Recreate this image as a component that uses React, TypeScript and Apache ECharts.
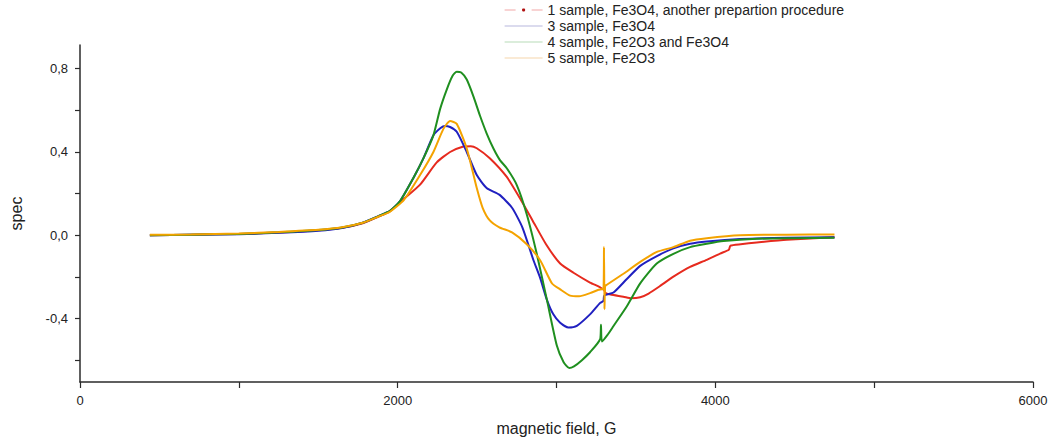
import React, { useEffect, useRef } from "react";
import * as echarts from "echarts";

const seriesNames = [
  "1 sample, Fe3O4, another prepartion procedure",
  "3 sample, Fe3O4",
  "4 sample, Fe2O3 and Fe3O4",
  "5 sample, Fe2O3",
];

const redField = [440, 700, 1000, 1250, 1500, 1650, 1780, 1880, 1950, 2040, 2141, 2246, 2330, 2414, 2460, 2498, 2580, 2687, 2768, 2850, 2934, 3023, 3107, 3211, 3275, 3296, 3300, 3306, 3340, 3421, 3470, 3527, 3580, 3650, 3736, 3841, 3946, 4030, 4085, 4095, 4160, 4261, 4450, 4750];
const redSpec = [0.0, 0.003, 0.006, 0.013, 0.024, 0.036, 0.058, 0.09, 0.115, 0.175, 0.243, 0.35, 0.4, 0.426, 0.428, 0.418, 0.37, 0.28, 0.18, 0.07, -0.043, -0.136, -0.18, -0.227, -0.25, -0.262, -0.235, -0.275, -0.285, -0.295, -0.303, -0.298, -0.28, -0.245, -0.199, -0.152, -0.118, -0.088, -0.07, -0.05, -0.043, -0.035, -0.022, -0.01];

const blueField = [440, 700, 1000, 1250, 1500, 1650, 1780, 1880, 1952, 2015, 2099, 2162, 2225, 2270, 2298, 2330, 2372, 2435, 2498, 2560, 2640, 2720, 2785, 2855, 2897, 2939, 2980, 3023, 3075, 3128, 3211, 3275, 3296, 3300, 3359, 3443, 3527, 3632, 3736, 3841, 3946, 4156, 4450, 4750];
const blueSpec = [0.0, 0.002, 0.005, 0.012, 0.022, 0.035, 0.06, 0.092, 0.117, 0.164, 0.275, 0.369, 0.48, 0.515, 0.525, 0.52, 0.497, 0.4, 0.289, 0.227, 0.195, 0.132, 0.038, -0.12, -0.205, -0.309, -0.38, -0.42, -0.443, -0.435, -0.38, -0.325, -0.315, -0.29, -0.275, -0.21, -0.147, -0.1, -0.063, -0.041, -0.03, -0.018, -0.012, -0.01];

const greenField = [440, 700, 1000, 1250, 1500, 1650, 1780, 1880, 1952, 2015, 2099, 2162, 2225, 2267, 2309, 2345, 2372, 2400, 2435, 2478, 2519, 2560, 2603, 2645, 2687, 2750, 2813, 2876, 2939, 3002, 3045, 3080, 3110, 3160, 3211, 3275, 3280, 3286, 3320, 3359, 3443, 3527, 3631, 3736, 3841, 3946, 4051, 4261, 4500, 4750];
const greenSpec = [0.0, 0.003, 0.006, 0.014, 0.025, 0.037, 0.06, 0.092, 0.117, 0.164, 0.275, 0.369, 0.48, 0.606, 0.7, 0.765, 0.786, 0.782, 0.748, 0.665, 0.573, 0.49, 0.417, 0.36, 0.322, 0.241, 0.1, -0.09, -0.308, -0.53, -0.61, -0.638, -0.63, -0.6, -0.562, -0.499, -0.43, -0.51, -0.48, -0.436, -0.341, -0.231, -0.136, -0.089, -0.057, -0.041, -0.028, -0.017, -0.014, -0.012];

const orangeField = [440, 700, 1000, 1250, 1500, 1650, 1780, 1880, 1952, 2040, 2141, 2225, 2288, 2330, 2372, 2435, 2498, 2535, 2580, 2640, 2720, 2813, 2897, 2972, 3023, 3086, 3142, 3211, 3265, 3296, 3299, 3302, 3306, 3317, 3421, 3527, 3632, 3736, 3841, 3946, 4156, 4450, 4750];
const orangeSpec = [0.002, 0.004, 0.008, 0.016, 0.026, 0.038, 0.06, 0.09, 0.113, 0.17, 0.289, 0.4, 0.511, 0.549, 0.535, 0.417, 0.227, 0.132, 0.071, 0.038, 0.014, -0.043, -0.12, -0.232, -0.26, -0.29, -0.293, -0.278, -0.262, -0.255, -0.057, -0.355, -0.245, -0.238, -0.185, -0.128, -0.08, -0.057, -0.026, -0.014, 0.0, 0.003, 0.004];

const yTickValues = [-0.6, -0.4, -0.2, 0, 0.2, 0.4, 0.6, 0.8];
const yLabelValues = [-0.4, 0, 0.4, 0.8];

const lineColors = ["#e62a1e", "#2020c0", "#1f8f1f", "#f4a300"];
const legendColors = ["#f2a8a8", "#b8b8de", "#b8dcb8", "#f6d6ac"];

const pairs = (xs: number[], ys: number[]) => xs.map((x, i) => [x, ys[i]]);

export default function App() {
  const ref = useRef<HTMLDivElement>(null);
  useEffect(() => {
    if (!ref.current) return;
    const chart = echarts.init(ref.current, null, { renderer: "svg" });
    const fields = [redField, blueField, greenField, orangeField];
    const specs = [redSpec, blueSpec, greenSpec, orangeSpec];
    const font = "'Liberation Sans', Arial, sans-serif";
    chart.setOption({
      animation: false,
      backgroundColor: "#ffffff",
      textStyle: { fontFamily: font },
      grid: { left: 80, right: 18, top: 45, bottom: 54, containLabel: false },
      legend: {
        orient: "vertical",
        left: 504,
        top: 2,
        padding: 0,
        itemGap: 0,
        itemWidth: 38,
        itemHeight: 4,
        selectedMode: false,
        textStyle: { fontSize: 14, color: "#222", lineHeight: 16, fontFamily: font },
        data: seriesNames.map((n, i) => ({
          name: n,
          lineStyle: {
            color: legendColors[i],
            width: 1.2,
            type: i === 0 ? [11, 16] : "solid",
          },
          itemStyle: i === 0 ? { color: "#b01010", opacity: 1 } : { color: legendColors[i], opacity: 0 },
        })),
      },
      xAxis: {
        type: "value",
        min: 0,
        max: 6000,
        interval: 1000,
        name: "magnetic field, G",
        nameLocation: "middle",
        nameGap: 38,
        nameTextStyle: { fontSize: 16, color: "#222", fontFamily: font },
        axisLine: { onZero: false, lineStyle: { color: "#2b2b2b", width: 1.5 } },
        axisTick: { length: 6, lineStyle: { color: "#2b2b2b", width: 1.2 } },
        axisLabel: {
          margin: 12,
          fontSize: 13,
          color: "#222",
          fontFamily: font,
          formatter: (v: number) => (v % 2000 === 0 ? String(v) : ""),
        },
        splitLine: { show: false },
      },
      yAxis: {
        type: "value",
        min: -0.705,
        max: 0.914,
        name: "spec",
        nameLocation: "middle",
        nameGap: 56,
        nameTextStyle: { fontSize: 16, color: "#222", fontFamily: font },
        axisLine: { onZero: false, lineStyle: { color: "#2b2b2b", width: 1.5 } },
        axisTick: {
          length: 5,
          customValues: yTickValues,
          lineStyle: { color: "#2b2b2b", width: 1.2 },
        },
        axisLabel: {
          margin: 12,
          fontSize: 13,
          color: "#222",
          fontFamily: font,
          customValues: yLabelValues,
          formatter: (v: number) => v.toFixed(1).replace(".", ","),
        },
        splitLine: { show: false },
      },
      series: seriesNames.map((n, i) => ({
        name: n,
        type: "line",
        symbol: "circle",
        showSymbol: false,
        smooth: 0.2,
        color: lineColors[i],
        lineStyle: { color: lineColors[i], width: 2 },
        data: pairs(fields[i], specs[i]),
        z: 2 + i,
      })),
    });
    return () => chart.dispose();
  }, []);
  return (
    <div
      ref={ref}
      style={{ position: "absolute", left: 0, top: 0, width: 1051, height: 441 }}
    />
  );
}
